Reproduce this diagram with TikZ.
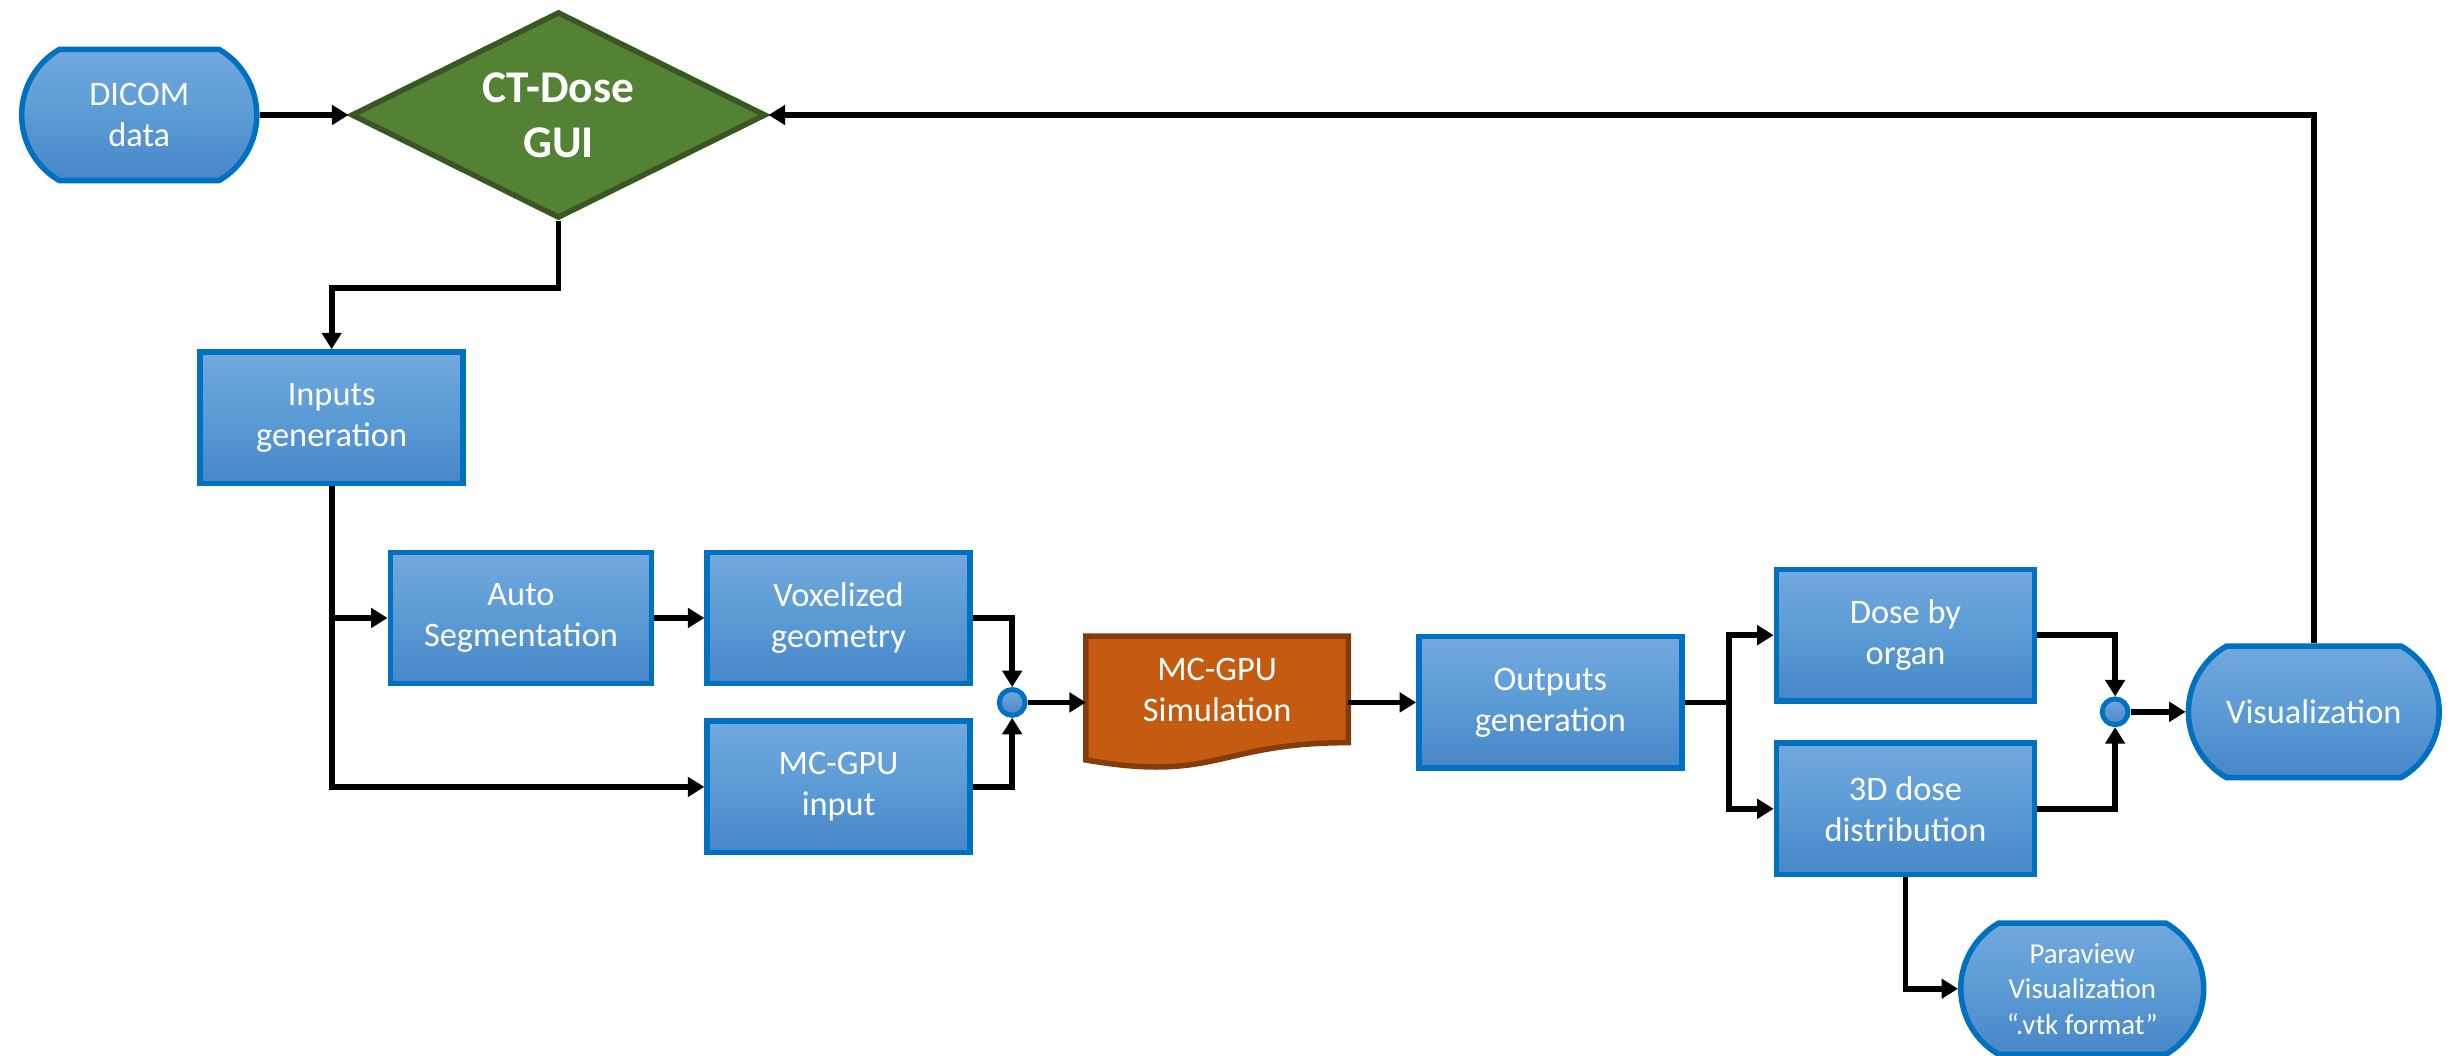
\documentclass[tikz,border=0pt]{standalone}
\usepackage{fontspec}
\setmainfont{Carlito}
\usetikzlibrary{shapes.geometric,shapes.misc,arrows.meta}
\definecolor{boxblue}{RGB}{91,155,213}
\definecolor{boxtop}{RGB}{114,168,222}
\definecolor{boxbot}{RGB}{72,134,200}
\definecolor{edgeblue}{RGB}{0,112,192}
\definecolor{guigreen}{RGB}{84,130,53}
\definecolor{guiedge}{RGB}{56,87,35}
\definecolor{simorange}{RGB}{197,90,17}
\definecolor{simedge}{RGB}{132,60,12}

\begin{document}
\begin{tikzpicture}[
  box/.style={rectangle, draw=edgeblue, line width=2pt, top color=boxtop, bottom color=boxbot, middle color=boxblue,
    text=white, align=center, minimum width=3.36cm, minimum height=1.68cm, font=\fontsize{12.5}{15}\selectfont},
  term/.style={box, rounded rectangle, rounded rectangle arc length=120},
  gui/.style={diamond, aspect=2, draw=guiedge, fill=guigreen, line width=2pt, minimum width=5.3cm, minimum height=2.64cm,
    inner sep=0pt, text=white, align=center, font=\bfseries\fontsize{16.5}{20}\selectfont},
  docbox/.style={rectangle, minimum width=3.34cm, minimum height=1.68cm},
  lbl/.style={text=white, align=center, font=\fontsize{12.5}{15}\selectfont},
  junc/.style={circle, draw=edgeblue, line width=1.8pt, top color=boxtop, bottom color=boxbot, minimum size=0.33cm, inner sep=0pt},
  flow/.style={line width=2.1pt, -{Triangle[length=6pt,width=7pt]}},
  line/.style={line width=2.1pt}]
  \useasboundingbox (0,0) rectangle (31.36,-13.5);

  % Input side
  \node[term, minimum width=3.24cm] (dicom) at (1.78,-1.47) {DICOM\\data};
  \node[gui] (gui) at (7.14,-1.47) {CT-Dose\\GUI};
  \node[box] (inputs) at (4.24,-5.34) {Inputs\\generation};
  \node[box, minimum width=3.34cm] (seg) at (6.66,-7.90) {Auto\\Segmentation};
  \node[box] (vox) at (10.72,-7.90) {Voxelized\\geometry};
  \node[box] (mcin) at (10.72,-10.06) {MC-GPU\\input};
  \node[junc] (j1) at (12.94,-8.98) {};

  % Simulation (document shape)
  \node[docbox] (sim) at (15.56,-8.98) {};
  \filldraw[fill=simorange, draw=simedge, line width=2pt]
    (sim.north west) -- (sim.north east) -- ([yshift=0.333cm]sim.south east)
    .. controls ([yshift=0.333cm]sim.south) and ([yshift=-0.18cm]sim.south) .. ([yshift=0.111cm]sim.south west) -- cycle;
  \node[lbl] (simtxt) at ([yshift=0.16cm]sim.center) {MC-GPU\\Simulation};

  % Output side
  \node[box] (outs) at (19.82,-8.98) {Outputs\\generation};
  \coordinate (split) at (22.10,-8.98);
  \node[box, minimum width=3.30cm] (organ) at (24.36,-8.12) {Dose by\\organ};
  \node[box, minimum width=3.30cm] (dose3d) at (24.36,-10.34) {3D dose\\distribution};
  \node[junc] (j2) at (27.04,-9.10) {};
  \node[term, minimum width=3.44cm] (vis) at (29.58,-9.10) {Visualization};
  \node[term, minimum width=3.34cm, font=\fontsize{10.5}{12.9}\selectfont] (para) at (26.62,-12.64)
    {Paraview\\Visualization\\“.vtk format”};

  % Connectors
  \draw[flow] (dicom.east) -- (gui.west);
  \draw[flow] (gui.south) -- ++(0,-0.86) -| (inputs.north);
  \draw[flow] (inputs.south) |- (mcin.west);
  \draw[flow] (inputs.south |- seg.west) -- (seg.west);
  \draw[flow] (seg.east) -- (vox.west);
  \draw[flow] (vox.east) -| (j1.north);
  \draw[flow] (mcin.east) -| (j1.south);
  \draw[flow] (j1.east) -- (sim.west);
  \draw[flow] (sim.east) -- (outs.west);
  \draw[line] (outs.east) -- (split);
  \draw[flow] (split) |- (organ.west);
  \draw[flow] (split) |- (dose3d.west);
  \draw[flow] (organ.east) -| (j2.north);
  \draw[flow] (dose3d.east) -| (j2.south);
  \draw[flow] (j2.east) -- (vis.west);
  \draw[flow] (vis.north) |- (gui.east);
  \draw[flow] (dose3d.south) |- (para.west);
\end{tikzpicture}
\end{document}
